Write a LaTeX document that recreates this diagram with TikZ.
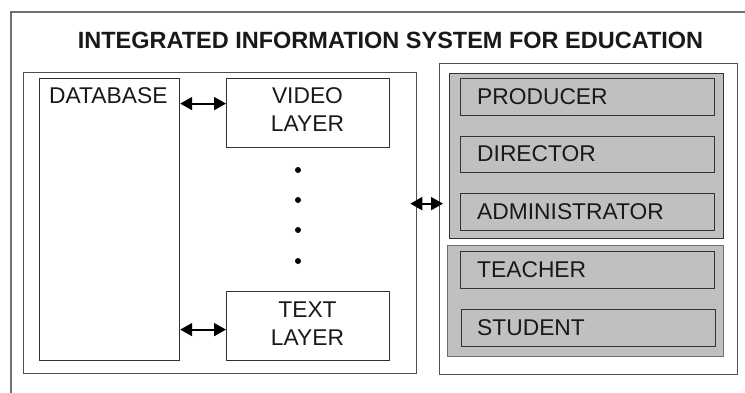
\documentclass[tikz,border=0pt]{standalone}
\usepackage{fontspec}
\setmainfont{Liberation Sans}
\usetikzlibrary{arrows.meta}

\definecolor{rolegray}{HTML}{C0C0C0}
\definecolor{edgedark}{HTML}{333333}
\definecolor{edgemid}{HTML}{505050}
\definecolor{edgelight}{HTML}{707070}

\begin{document}
\begin{tikzpicture}[
  x=1pt, y=-1pt,
  outerframe/.style={draw=edgelight, line width=1.6pt, inner sep=0pt, anchor=north west},
  panel/.style={draw=edgemid, line width=1.3pt, fill=white, inner sep=0pt, anchor=north west},
  plainbox/.style={draw=edgedark, line width=1.2pt, fill=white, inner sep=0pt, anchor=north west},
  rolegroup/.style={draw=edgemid, line width=1.3pt, fill=rolegray, inner sep=0pt, anchor=north west},
  rolebox/.style={draw=edgedark, line width=1.2pt, fill=rolegray, inner sep=0pt, anchor=north west,
                  minimum width=254pt},
  bodytext/.style={font=\fontsize{22.8}{28}\selectfont, text=black!90, inner sep=0pt},
  roletext/.style={bodytext, anchor=west},
  dotmark/.style={circle, fill=black, inner sep=0pt, minimum size=6pt},
  biarrow/.style={line width=1.8pt,
                  {Triangle[length=12pt,width=13pt]}-{Triangle[length=12pt,width=13pt]}},
]
\useasboundingbox (0,0) rectangle (745,392);
\fill[white] (0,0) rectangle (745,392);
\clip (0,0) rectangle (745,392);

% frame around the whole system (runs off the page at right and bottom)
\node[outerframe, minimum width=760pt, minimum height=410pt] (frame) at (10,11) {};

% title
\node[font=\fontsize{23.5}{27}\selectfont\bfseries, text=black!90, inner sep=0pt, anchor=base]
  (title) at (390.5,48) {INTEGRATED INFORMATION SYSTEM FOR EDUCATION};

% left panel: database and media layers
\node[panel, minimum width=393pt, minimum height=301pt] (lp) at (23,72) {};
\node[plainbox, minimum width=140pt, minimum height=282pt] (db) at (39,78) {};
\node[bodytext, anchor=base west] (dbtext) at (49,103) {DATABASE};

\node[plainbox, minimum width=163pt, minimum height=69pt] (video) at (226,78) {};
\node[bodytext, align=center] (videotext) at (307.5,109.5) {VIDEO\\LAYER};

\node[plainbox, minimum width=163pt, minimum height=69pt] (textlayer) at (226,291) {};
\node[bodytext, align=center] (textlayertext) at (307.5,323.5) {TEXT\\LAYER};

\node[dotmark] (d1) at (298,170) {};
\node[dotmark] (d2) at (298,200) {};
\node[dotmark] (d3) at (298,230) {};
\node[dotmark] (d4) at (298,261) {};

% right panel: user roles
\node[panel, minimum width=298pt, minimum height=311pt] (rp) at (439,63) {};
\node[rolegroup, draw=edgedark, minimum width=274pt, minimum height=165pt] (staff) at (449,73) {};
\node[rolegroup, draw=edgelight, minimum width=276pt, minimum height=111pt] (learners) at (447,245) {};

\node[rolebox, minimum height=37pt] (producer) at (460,78) {};
\node[roletext] (producertext) at (477,96.5) {PRODUCER};
\node[rolebox, minimum height=36pt] (director) at (460,136) {};
\node[roletext] (directortext) at (477,154) {DIRECTOR};
\node[rolebox, minimum height=37pt] (admin) at (460,193) {};
\node[roletext] (admintext) at (477,211.5) {ADMINISTRATOR};
\node[rolebox, minimum height=37pt] (teacher) at (460,251) {};
\node[roletext] (teachertext) at (477,269.5) {TEACHER};
\node[rolebox, minimum height=37pt] (student) at (461,309) {};
\node[roletext] (studenttext) at (477,327.5) {STUDENT};

% connectors
\draw[biarrow] ([yshift=9.5pt]video.west -| db.east) -- ([yshift=9.5pt]video.west);
\draw[biarrow] ([yshift=-3.5pt]textlayer.west -| db.east) -- ([yshift=-3.5pt]textlayer.west);
\draw[biarrow] ([xshift=-7pt,yshift=19.5pt]lp.east) -- ([xshift=4pt,yshift=15.5pt]rp.west);
\end{tikzpicture}
\end{document}
